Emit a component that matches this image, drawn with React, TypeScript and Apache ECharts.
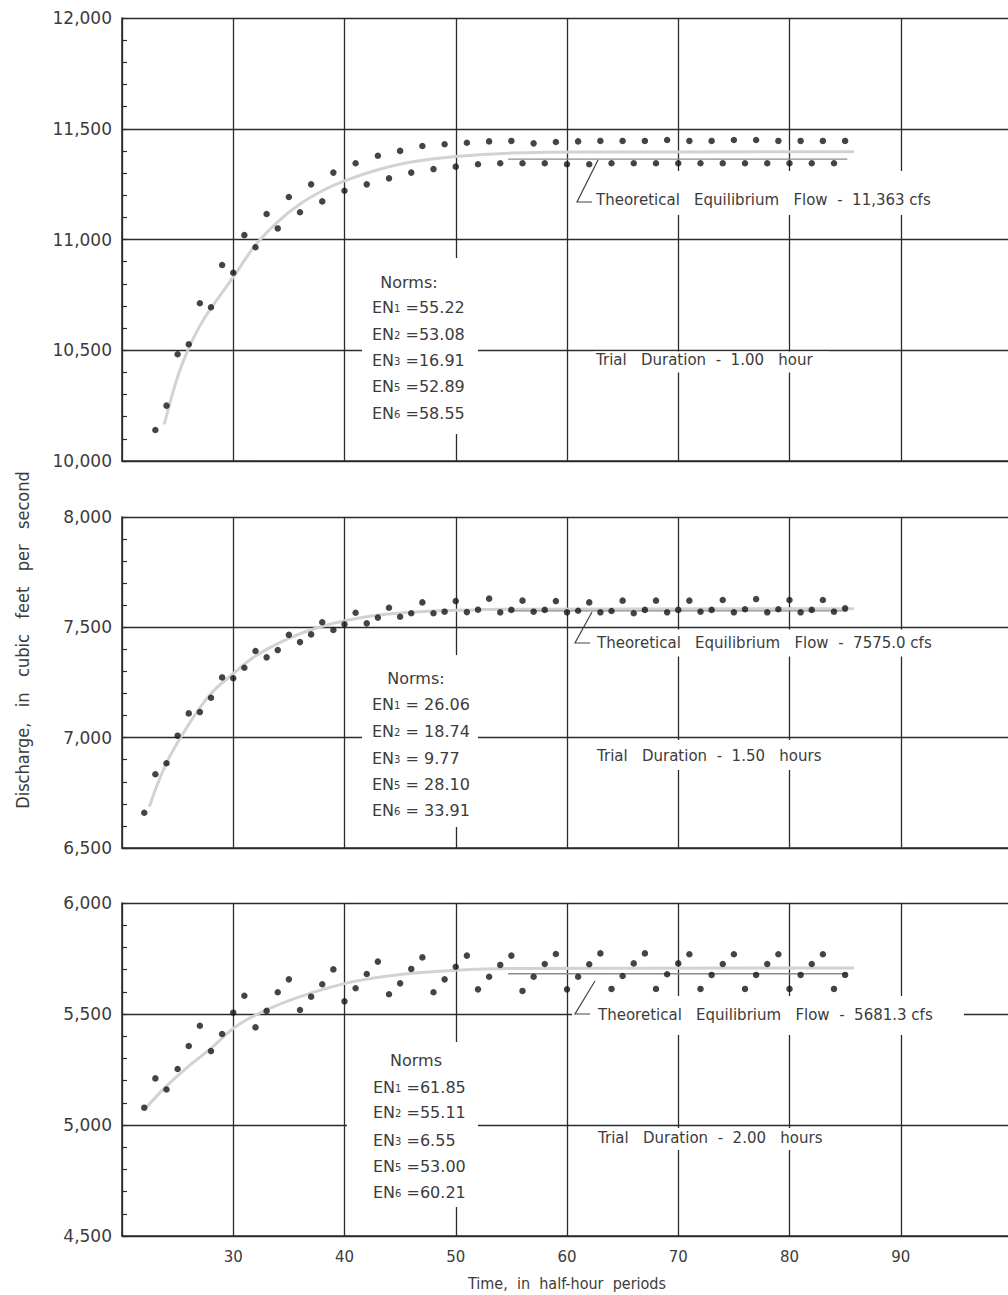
import React, { useEffect, useRef } from "react";
import * as echarts from "echarts";

// ---------- data ----------
const X_MIN = 20;
const X_MAX = 100;

const P1_START = 23;
const P1_VALUES = [
  10140, 10250, 10482, 10527, 10712, 10694, 10885, 10850, 11020, 10965,
  11115, 11050, 11192, 11123, 11249, 11172, 11302, 11220, 11344, 11249,
  11378, 11276, 11400, 11302, 11422, 11318, 11430, 11329, 11437, 11340,
  11443, 11344, 11445, 11344, 11434, 11344, 11440, 11340, 11443, 11340,
  11445, 11344, 11445, 11344, 11445, 11344, 11449, 11344, 11445, 11344,
  11445, 11344, 11449, 11344, 11449, 11344, 11445, 11344, 11445, 11344,
  11445, 11344, 11445,
];
const P1_CURVE = [
  [23.8, 10165], [25, 10380], [26, 10510], [27, 10610], [28, 10690], [30, 10830],
  [32, 10975], [34, 11080], [36, 11160], [38, 11220], [40, 11265], [43, 11315],
  [46, 11350], [50, 11375], [55, 11390], [62, 11395], [85.8, 11396],
];
const P1_EQ = 11363;

const P2_START = 22;
const P2_VALUES = [
  6660, 6834, 6884, 7009, 7110, 7116, 7181, 7273, 7269, 7317,
  7393, 7364, 7397, 7466, 7433, 7468, 7523, 7488, 7514, 7566,
  7518, 7544, 7589, 7548, 7564, 7613, 7564, 7571, 7619, 7569,
  7580, 7630, 7568, 7579, 7621, 7571, 7579, 7619, 7568, 7575,
  7613, 7568, 7574, 7621, 7564, 7579, 7621, 7568, 7579, 7621,
  7571, 7579, 7624, 7568, 7582, 7628, 7568, 7582, 7624, 7568,
  7579, 7624, 7571, 7586,
];
const P2_CURVE = [
  [22.45, 6687], [24, 6885], [26, 7060], [28, 7200], [30, 7290], [32, 7370],
  [35, 7450], [38, 7505], [42, 7548], [46, 7568], [50, 7577], [55, 7582], [85.8, 7584],
];
const P2_EQ = 7575.0;

const P3_START = 22;
const P3_VALUES = [
  5078, 5210, 5160, 5252, 5356, 5447, 5333, 5410, 5506, 5582,
  5440, 5514, 5598, 5656, 5518, 5578, 5634, 5701, 5557, 5616,
  5680, 5736, 5589, 5638, 5703, 5755, 5598, 5656, 5713, 5763,
  5611, 5668, 5721, 5763, 5604, 5668, 5725, 5770, 5611, 5668,
  5724, 5773, 5613, 5671, 5728, 5773, 5613, 5679, 5728, 5769,
  5613, 5676, 5725, 5769, 5613, 5676, 5725, 5769, 5613, 5676,
  5725, 5769, 5613, 5676,
];
const P3_CURVE = [
  [22.2, 5080], [24, 5175], [26, 5265], [28, 5345], [30, 5435], [32, 5495],
  [35, 5560], [38, 5610], [41, 5648], [45, 5678], [50, 5697], [55, 5705], [85.8, 5707],
];
const P3_EQ = 5681.3;

const EQ_RANGE = [54.7, 85.2];

const Y_RANGES = [
  [10000, 12000],
  [6500, 8000],
  [4500, 6000],
];

const P1_NORMS = [["1", " =55.22"], ["2", " =53.08"], ["3", " =16.91"], ["5", " =52.89"], ["6", " =58.55"]];
const P2_NORMS = [["1", " = 26.06"], ["2", " = 18.74"], ["3", " = 9.77"], ["5", " = 28.10"], ["6", " = 33.91"]];
const P3_NORMS = [["1", " =61.85"], ["2", " =55.11"], ["3", " =6.55"], ["5", " =53.00"], ["6", " =60.21"]];

const NORM_TITLES = ["Norms:", "Norms:", "Norms"];
const EQ_LABELS = [
  "Theoretical   Equilibrium   Flow  -  11,363 cfs",
  "Theoretical   Equilibrium   Flow  -  7575.0 cfs",
  "Theoretical   Equilibrium   Flow  -  5681.3 cfs",
];
const TRIAL_LABELS = [
  "Trial   Duration  -  1.00   hour",
  "Trial   Duration  -  1.50   hours",
  "Trial   Duration  -  2.00   hours",
];
const X_TITLE = "Time,  in  half-hour  periods";
const Y_TITLE = "Discharge,   in   cubic   feet   per   second";

// ---------- styles ----------
const INK = "#2b2b2b";
const TEXT = "#3c3c3c";
const FONT = "DejaVu Sans, Verdana, sans-serif";
const NARROW = "Liberation Sans Narrow, DejaVu Sans Condensed, Roboto Condensed, Arial Narrow, sans-serif";

const GRIDS = [
  { left: 122, top: 18, width: 890, height: 443, outerBoundsMode: "none", containLabel: false },
  { left: 122, top: 517, width: 890, height: 331, outerBoundsMode: "none", containLabel: false },
  { left: 122, top: 903, width: 890, height: 333, outerBoundsMode: "none", containLabel: false },
];

function zip(start: number, values: number[]) {
  return values.map((v, i) => [start + i, v]);
}

function buildOption() {
  const xAxis = [0, 1, 2].map((i) => ({
    type: "value",
    gridIndex: i,
    min: X_MIN,
    max: X_MAX,
    interval: 10,
    axisLine: { show: true, onZero: false, lineStyle: { color: INK, width: 1.6 } },
    axisTick: { show: false },
    splitLine: { show: true, lineStyle: { color: INK, width: 1.3 } },
    axisLabel: {
      show: i === 2,
      margin: 13,
      color: TEXT,
      fontSize: 15,
      fontFamily: FONT,
      formatter: (v: number) => (v === X_MIN || v === X_MAX ? "" : String(v)),
    },
    name: i === 2 ? X_TITLE : "",
    nameLocation: "middle",
    nameGap: 39,
    nameTextStyle: { color: TEXT, fontSize: 16, fontFamily: NARROW },
  }));

  const yAxis = [0, 1, 2].map((i) => ({
    type: "value",
    gridIndex: i,
    min: Y_RANGES[i][0],
    max: Y_RANGES[i][1],
    interval: 500,
    axisLine: { show: true, lineStyle: { color: INK, width: 1.6 } },
    axisTick: { show: true, inside: true, length: 5, lineStyle: { color: INK, width: 1.2 } },
    minorTick: { show: true, splitNumber: 5, length: 5, lineStyle: { color: INK, width: 1.2 } },
    splitLine: { show: true, lineStyle: { color: INK, width: 1.3 } },
    axisLabel: {
      margin: 10,
      color: TEXT,
      fontSize: 17,
      fontFamily: FONT,
      formatter: (v: number) => v.toLocaleString("en-US"),
    },
  }));

  const panels = [
    { start: P1_START, values: P1_VALUES, curve: P1_CURVE, eq: P1_EQ },
    { start: P2_START, values: P2_VALUES, curve: P2_CURVE, eq: P2_EQ },
    { start: P3_START, values: P3_VALUES, curve: P3_CURVE, eq: P3_EQ },
  ];

  const series: any[] = [];
  panels.forEach((p, i) => {
    series.push({
      type: "line",
      xAxisIndex: i,
      yAxisIndex: i,
      data: p.curve,
      smooth: 0.4,
      symbol: "none",
      lineStyle: { color: "#d2d2d2", width: 3 },
      z: 2,
      silent: true,
    });
    series.push({
      type: "line",
      xAxisIndex: i,
      yAxisIndex: i,
      data: [[EQ_RANGE[0], p.eq], [EQ_RANGE[1], p.eq]],
      symbol: "none",
      lineStyle: { color: "#8c8c8c", width: 1.3 },
      z: 3,
      silent: true,
    });
    series.push({
      type: "scatter",
      xAxisIndex: i,
      yAxisIndex: i,
      data: zip(p.start, p.values),
      symbolSize: 6.5,
      itemStyle: { color: "#151515" },
      z: 5,
      silent: true,
    });
  });

  // ---------- annotations ----------
  const graphic: any[] = [];
  const rect = (x: number, y: number, w: number, h: number) =>
    graphic.push({ type: "rect", shape: { x, y, width: w, height: h }, style: { fill: "#ffffff" }, z: 50, silent: true });
  const text = (x: number, y: number, t: string, size: number, align = "left") =>
    graphic.push({
      type: "text",
      x,
      y,
      z: 60,
      silent: true,
      style: { text: t, fill: TEXT, fontSize: size, fontFamily: FONT, align, verticalAlign: "middle" },
    });
  const norm = (x: number, y: number, sub: string, rest: string) =>
    graphic.push({
      type: "text",
      x,
      y,
      z: 60,
      silent: true,
      style: {
        text: `{a|EN}{s|${sub}}{a|${rest}}`,
        fill: TEXT,
        align: "left",
        verticalAlign: "middle",
        rich: {
          a: { fontSize: 16, fontFamily: FONT, fill: TEXT, verticalAlign: "bottom" },
          s: { fontSize: 10, fontFamily: FONT, fill: TEXT, verticalAlign: "bottom", padding: [0, 0, 2, 0] },
        },
      },
    });
  const leader = (pts: number[][]) =>
    graphic.push({ type: "polyline", shape: { points: pts }, style: { stroke: "#444", lineWidth: 1.2, fill: null }, z: 61, silent: true });

  // panel 1
  rect(362, 258, 116, 176);
  rect(593, 171, 352, 44);
  rect(593, 351.5, 236, 21);
  text(409, 282, NORM_TITLES[0], 16, "center");
  [307, 334, 360, 386, 413].forEach((y, k) => norm(372, y, P1_NORMS[k][0], P1_NORMS[k][1]));
  text(596, 200, EQ_LABELS[0], 15);
  text(596, 360, TRIAL_LABELS[0], 15);
  leader([[598, 160], [577, 202], [592, 202]]);

  // panel 2
  rect(362, 655, 116, 172);
  rect(593, 629.5, 365, 27);
  rect(593, 740, 245, 30);
  text(416, 678, NORM_TITLES[1], 16, "center");
  [704, 731, 758, 784, 810].forEach((y, k) => norm(372, y, P2_NORMS[k][0], P2_NORMS[k][1]));
  text(597, 643, EQ_LABELS[1], 15);
  text(597, 756, TRIAL_LABELS[1], 15);
  leader([[592, 612], [575, 643], [590, 643]]);

  // panel 3
  rect(347, 1042, 131, 165);
  rect(572, 996, 392, 39);
  rect(593, 1128, 255, 22);
  text(416, 1060, NORM_TITLES[2], 16, "center");
  [1087, 1112, 1140, 1166, 1192].forEach((y, k) => norm(373, y, P3_NORMS[k][0], P3_NORMS[k][1]));
  text(598, 1015, EQ_LABELS[2], 15);
  text(598, 1138, TRIAL_LABELS[2], 15);
  leader([[595, 981], [575, 1014], [590, 1014]]);

  // y-axis title
  graphic.push({
    type: "text",
    x: 22,
    y: 640,
    rotation: Math.PI / 2,
    z: 60,
    silent: true,
    style: { text: Y_TITLE, fill: TEXT, fontSize: 18, fontFamily: NARROW, align: "center", verticalAlign: "middle" },
  });

  return {
    animation: false,
    backgroundColor: "#ffffff",
    grid: GRIDS,
    xAxis,
    yAxis,
    series,
    graphic,
  };
}

export default function App() {
  const ref = useRef<HTMLDivElement>(null);
  useEffect(() => {
    if (!ref.current) return;
    const chart = echarts.init(ref.current, null, { renderer: "svg" });
    chart.setOption(buildOption() as any);
    return () => chart.dispose();
  }, []);
  return (
    <div
      ref={ref}
      style={{ position: "absolute", left: 0, top: 0, width: 1008, height: 1295, background: "#fff" }}
    />
  );
}
